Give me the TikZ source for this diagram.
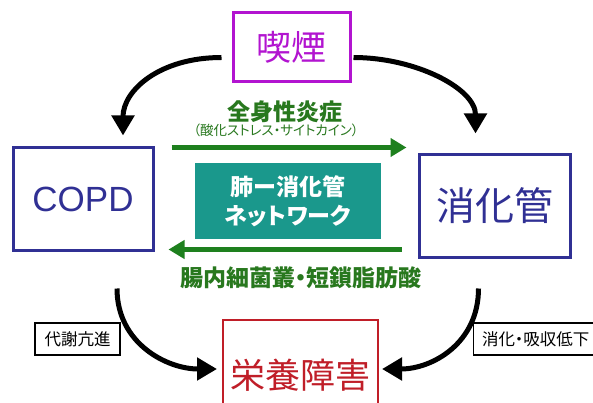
\documentclass[tikz,border=0pt]{standalone}
\usepackage{fontspec}
\setmainfont{Liberation Sans}
\newfontfamily\jp{Noto Sans CJK JP}
\newfontfamily\jpp{Noto Sans CJK JP}[RawFeature=+palt]
\usetikzlibrary{arrows.meta,calc}
\definecolor{smk}{RGB}{178,20,208}
\definecolor{nvy}{RGB}{48,48,148}
\definecolor{tealb}{RGB}{26,152,140}
\definecolor{grn}{RGB}{30,128,30}
\definecolor{gtxt}{RGB}{40,120,30}
\definecolor{rd}{RGB}{192,30,40}
\tikzset{
  mainbox/.style={draw, line width=3pt, inner sep=0pt, align=center},
  tagbox/.style={draw=black, line width=1.3pt, inner sep=0pt, font=\jpp\fontsize{16.5}{18}\selectfont},
  blackarrow/.style={line width=5pt, -{Triangle[length=20pt,width=22pt]}},
  greenarrow/.style={draw=grn, line width=5pt, -{Triangle[length=16pt,width=18pt]}, fill=grn},
  glabel/.style={text=gtxt, inner sep=0pt, font=\jpp\bfseries\fontsize{23}{25}\selectfont}
}
\begin{document}
\begin{tikzpicture}[x=1pt,y=-1pt]
\useasboundingbox (0,0) rectangle (593,403);
\clip (0,0) rectangle (593,403);
\fill[white] (0,0) rectangle (593,403);

% boxes
\node[mainbox, draw=smk, text=smk, minimum width=117pt, minimum height=69pt,
      font=\jp\fontsize{35}{38}\selectfont] (smoke) at (291.5,47.5) {\raisebox{-3pt}{喫煙}};
\node[mainbox, draw=nvy, text=nvy, minimum width=140pt, minimum height=102pt,
      font=\fontsize{35}{38}\selectfont] (copd) at (83,199) {COPD};
\node[mainbox, draw=nvy, text=nvy, minimum width=151pt, minimum height=102pt,
      font=\jp\fontsize{39}{42}\selectfont] (gi) at (494.5,206) {消化管};
\node[fill=tealb, text=white, minimum width=186pt, minimum height=76pt, inner sep=0pt,
      align=center, font=\jp\bfseries\fontsize{23}{29}\selectfont] (net) at (288,201)
      {肺ー消化管\\{\jpp\bfseries ネットワーク}};
\node[draw=rd, line width=2pt, text=rd, minimum width=155pt, minimum height=110pt, inner sep=0pt,
      font=\jp\fontsize{35}{38}\selectfont] (nutr) at (300.5,375) {栄養障害};

\node[tagbox, minimum width=85pt, minimum height=32pt] (meta) at (77.5,339) {代謝亢進};
\node[tagbox, minimum width=124pt, minimum height=32pt, anchor=west] (abs) at (473,339) {消化・吸収低下};

% green labels
\node[glabel] (infl) at (285,112) {全身性炎症};
\node[text=gtxt, inner sep=0pt, font=\jpp\fontsize{13.5}{15}\selectfont] (infl2) at (276,130)
      {（酸化ストレス・サイトカイン）};
\node[glabel] (micro) at (301,278) {腸内細菌叢・短鎖脂肪酸};

% green arrows
\draw[greenarrow] ($(copd.north east)+(17,1)$) -- ($(gi.north west)+(-11,-6)$);
\draw[greenarrow] ($(gi.south west)+(-16,-9)$) -- ($(copd.south east)+(14,-2)$);

% black arrows
\draw[blackarrow] ([xshift=-10pt,yshift=-10pt]smoke.west)
   .. controls +(-62,0) and +(0,-45) .. ([xshift=40pt,yshift=11pt]copd.north);
\draw[blackarrow] ([xshift=2pt,yshift=-10pt]smoke.east)
   .. controls +(62,0) and +(0,-45) .. ([xshift=-19pt,yshift=20pt]gi.north);
\draw[blackarrow] ([xshift=34pt,yshift=-37pt]copd.south)
   .. controls +(0,55) and +(-50,0) .. ([xshift=-5pt,yshift=6pt]nutr.west);
\draw[blackarrow] ([xshift=-16pt,yshift=-30pt]gi.south)
   .. controls +(0,55) and +(50,0) .. ([xshift=3pt,yshift=6pt]nutr.east);
\end{tikzpicture}
\end{document}
